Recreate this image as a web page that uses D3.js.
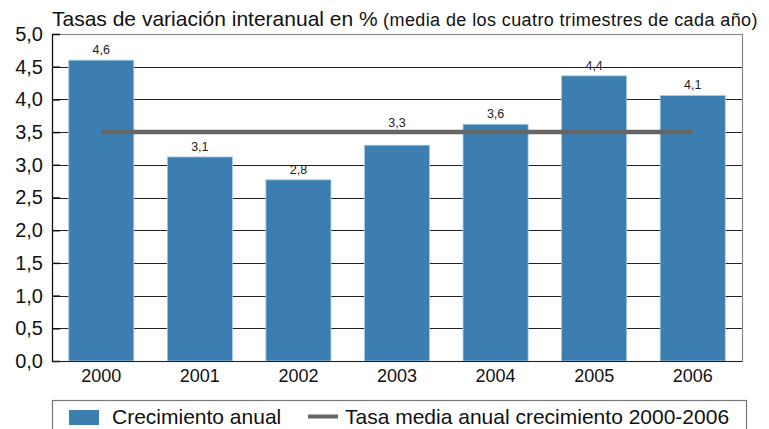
<!DOCTYPE html>
<html><head><meta charset="utf-8">
<script src="https://cdn.jsdelivr.net/npm/d3@7"></script>
<style>body{margin:0;background:#fff;} svg{display:block;font-family:"Liberation Sans",Arial,sans-serif;}</style>
</head><body>
<svg id="c" width="769" height="429"></svg>
<script>
const years = ["2000","2001","2002","2003","2004","2005","2006"];
const growth = [4.6, 3.12, 2.77, 3.3, 3.62, 4.36, 4.06];
const meanRate = 3.5;
const yTicks = [0,0.5,1,1.5,2,2.5,3,3.5,4,4.5,5];
const titleMain = "Tasas de variación interanual en %";
const titleSub = " (media de los cuatro trimestres de cada año)";
const legendLabels = ["Crecimiento anual","Tasa media anual crecimiento 2000-2006"];

const svg = d3.select("#c");
const L=52, R=742, T=34, B=361;
const x = d3.scaleBand().domain(years).range([L,R]).paddingInner(0.34).paddingOuter(0.17);
const y = d3.scaleLinear().domain([0,5]).range([B,T]);
const fmt = v => d3.format(".1f")(v).replace(".",",");
const FF = "Liberation Sans, Arial, sans-serif";

// gridlines
svg.append("g").selectAll("line").data(yTicks.filter(d=>d>0&&d<5)).join("line")
  .attr("x1",L).attr("x2",R).attr("y1",d=>Math.round(y(d))+0.5).attr("y2",d=>Math.round(y(d))+0.5)
  .attr("stroke","#222").attr("stroke-width",1);

// frame
svg.append("rect").attr("x",L+0.5).attr("y",T+0.5).attr("width",R-L).attr("height",B-T)
  .attr("fill","none").attr("stroke","#888").attr("stroke-width",1.2);

// bars
svg.append("g").selectAll("rect").data(years).join("rect")
  .attr("x",d=>x(d)).attr("width",x.bandwidth())
  .attr("y",(d,i)=>y(growth[i])).attr("height",(d,i)=>B-y(growth[i]))
  .attr("fill","#3b7eaf").attr("stroke","#a8cbe6").attr("stroke-width",0.8);

// labels (moved above the mean line when they would collide with it)
const labelY = v => {
  const ly = y(v) - 6;
  const my = y(meanRate);
  return (ly > my - 2.5 && ly - 10 < my + 2.5) ? my - 5 : ly;
};
svg.append("g").selectAll("text").data(years).join("text")
  .attr("x",d=>x(d)+x.bandwidth()/2).attr("y",(d,i)=>labelY(growth[i]))
  .attr("text-anchor","middle").attr("font-size",12.5).attr("fill","#222")
  .text((d,i)=>fmt(growth[i]));

// mean line
svg.append("line")
  .attr("x1",x(years[0])+x.bandwidth()/2).attr("x2",x(years[years.length-1])+x.bandwidth()/2)
  .attr("y1",y(meanRate)).attr("y2",y(meanRate))
  .attr("stroke","#666").attr("stroke-width",4.5);

// axes
const yAxis = svg.append("g").attr("transform",`translate(${L},0)`)
  .call(d3.axisLeft(y).tickValues(yTicks).tickFormat(fmt).tickSize(-8).tickPadding(9));
yAxis.select(".domain").remove();
yAxis.selectAll("line").attr("stroke","#111").attr("stroke-width",1.5);
yAxis.selectAll("text").attr("font-size",20).attr("fill","#111").attr("font-family",FF);
svg.append("line").attr("x1",L+0.5).attr("x2",L+0.5).attr("y1",T).attr("y2",B+1).attr("stroke","#111").attr("stroke-width",1.2);
svg.append("line").attr("x1",L).attr("x2",R).attr("y1",B+0.5).attr("y2",B+0.5).attr("stroke","#222").attr("stroke-width",1.2);

const xAxis = svg.append("g").attr("transform",`translate(0,${B})`)
  .call(d3.axisBottom(x).tickSize(0).tickPadding(8.5));
xAxis.select(".domain").remove();
xAxis.selectAll("text").attr("font-size",18).attr("fill","#111").attr("font-family",FF);

// title
const t = svg.append("text").attr("x",52).attr("y",26).attr("fill","#111");
t.append("tspan").attr("font-size",21).text(titleMain);
t.append("tspan").attr("font-size",18).attr("letter-spacing",0.4).text(titleSub);

// legend
svg.append("rect").attr("x",52.5).attr("y",400.5).attr("width",694).attr("height",40)
  .attr("fill","#fff").attr("stroke","#777").attr("stroke-width",1.2);
svg.append("rect").attr("x",69).attr("y",410).attr("width",30).attr("height",15).attr("fill","#3b7eaf");
svg.append("text").attr("x",112).attr("y",424).attr("font-size",21).attr("fill","#111").text(legendLabels[0]);
svg.append("line").attr("x1",308).attr("x2",338).attr("y1",416.5).attr("y2",416.5).attr("stroke","#666").attr("stroke-width",4);
svg.append("text").attr("x",345).attr("y",424).attr("font-size",21).attr("fill","#111").text(legendLabels[1]);
</script>
</body></html>
